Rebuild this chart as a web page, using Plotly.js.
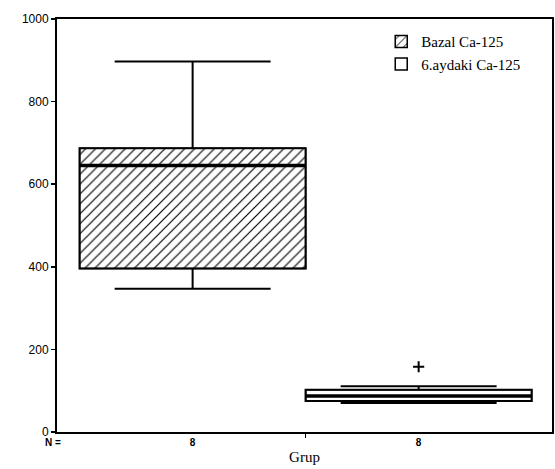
<!DOCTYPE html>
<html>
<head>
<meta charset="utf-8">
<script src="https://cdn.plot.ly/plotly-3.0.1.min.js"></script>
<style>html,body{margin:0;padding:0;background:#fff;}#chart{width:555px;height:469px;}</style>
</head>
<body>
<div id="chart"></div>
<script>
// Data
const groupNames = ["Bazal Ca-125", "6.aydaki Ca-125"];
const nCounts = [8, 8];
const lowerFence = [347, 70];
const q1Values = [396, 75];
const medianValues = [645, 87];
const q3Values = [687, 102];
const upperFence = [897, 111];
const outlierGroupIndex = [1];
const outlierValues = [158];
const yTicks = [0, 200, 400, 600, 800, 1000];

const xPos = groupNames.map((g, i) => i);
const boxWidth = 1.0;

const traces = [];
const patterns = ['/', ''];
groupNames.forEach((g, i) => {
  traces.push({
    type: 'bar',
    x: [xPos[i]],
    base: [q1Values[i]],
    y: [q3Values[i] - q1Values[i]],
    width: boxWidth,
    name: g,
    marker: {
      color: 'white',
      line: {color: 'black', width: 1.5},
      pattern: {shape: patterns[i], fgcolor: 'black', bgcolor: 'white', size: 7, solidity: 0.17}
    },
    hoverinfo: 'skip',
    showlegend: true
  });
});
traces.push({
  type: 'box',
  x: xPos,
  q1: q1Values,
  median: medianValues,
  q3: q3Values,
  lowerfence: lowerFence,
  upperfence: upperFence,
  width: boxWidth,
  whiskerwidth: 0.69,
  fillcolor: 'rgba(0,0,0,0)',
  line: {color: 'black', width: 2},
  showlegend: false
});
// thicker median lines
groupNames.forEach((g, i) => {
  traces.push({
    type: 'scatter', mode: 'lines',
    x: [xPos[i] - boxWidth / 2, xPos[i] + boxWidth / 2],
    y: [medianValues[i], medianValues[i]],
    line: {color: 'black', width: 3.5},
    showlegend: false, hoverinfo: 'skip'
  });
});
traces.push({
  type: 'scatter',
  mode: 'markers',
  x: outlierGroupIndex,
  y: outlierValues,
  marker: {symbol: 'cross-thin', size: 8, line: {color: 'black', width: 2}},
  showlegend: false
});

const layout = {
  width: 555, height: 469,
  margin: {l: 57, r: 3, t: 19, b: 37},
  paper_bgcolor: 'white', plot_bgcolor: 'white',
  barmode: 'overlay', boxmode: 'overlay',
  showlegend: true,
  legend: {
    x: 0.655, y: 0.985, xanchor: 'left', yanchor: 'top',
    bgcolor: 'rgba(0,0,0,0)',
    font: {family: 'Liberation Serif', size: 15, color: 'black'},
    tracegroupgap: 2
  },
  xaxis: {
    range: [-0.6, 1.59],
    tickmode: 'array',
    tickvals: xPos,
    ticktext: nCounts.map(String),
    ticks: '', ticklen: 0,
    minor: {tickmode: 'array', tickvals: [0.5], ticks: 'outside', ticklen: 4, tickwidth: 1.5, tickcolor: 'black', showgrid: false},
    tickfont: {family: 'Liberation Sans', size: 10, color: 'black', weight: 'bold'},
    showline: true, linecolor: 'black', linewidth: 2, mirror: true,
    showgrid: false, zeroline: false,
    title: {text: 'Grup', font: {family: 'Liberation Serif', size: 15, color: 'black'}, standoff: 4}
  },
  yaxis: {
    range: [0, 1000],
    tickvals: yTicks,
    ticks: 'outside', ticklen: 4, tickwidth: 1.5, tickcolor: 'black',
    tickfont: {family: 'Liberation Sans', size: 12, color: 'black'},
    showline: true, linecolor: 'black', linewidth: 2, mirror: true,
    showgrid: false, zeroline: false
  },
  annotations: [{
    xref: 'paper', yref: 'paper', x: -0.028, y: 0, yshift: -10,
    xanchor: 'left', yanchor: 'middle', showarrow: false,
    text: '<b>N =</b>', font: {family: 'Liberation Sans', size: 10, color: 'black'}
  }]
};

Plotly.newPlot('chart', traces, layout, {displayModeBar: false, staticPlot: true});
</script>
</body>
</html>
